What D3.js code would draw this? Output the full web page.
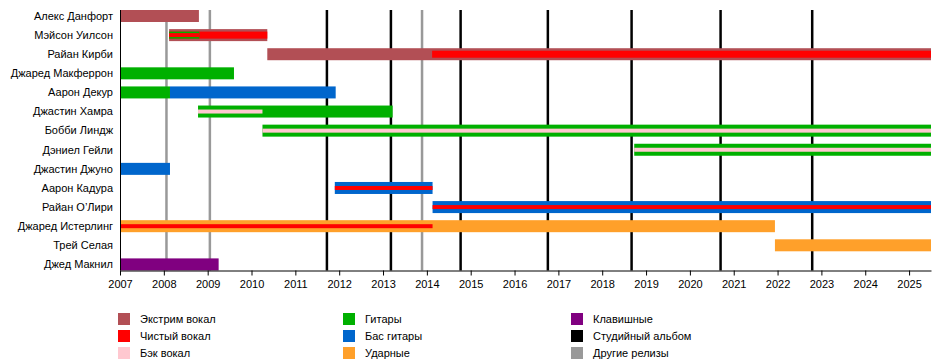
<!DOCTYPE html>
<html>
<head>
<meta charset="utf-8">
<script src="https://cdn.jsdelivr.net/npm/d3@7"></script>
<style>
  html, body { margin: 0; padding: 0; background: #fff; }
  svg { display: block; font-family: "Liberation Sans", Arial, sans-serif; }
</style>
</head>
<body>
<svg id="chart" width="950" height="360"></svg>
<script>
// ---- data ----
const members = ["Алекс Данфорт", "Мэйсон Уилсон", "Райан Кирби", "Джаред Макферрон", "Аарон Декур",
  "Джастин Хамра", "Бобби Линдж", "Дэниел Гейли", "Джастин Джуно", "Аарон Кадура",
  "Райан О’Лири", "Джаред Истерлинг", "Трей Селая", "Джед Макнил"];

const roles = ["extreme", "clean", "backing", "guitar", "bass", "drums", "keys", "studio", "other"];
const roleLabels = ["Экстрим вокал", "Чистый вокал", "Бэк вокал", "Гитары", "Бас гитары", "Ударные",
  "Клавишные", "Студийный альбом", "Другие релизы"];

const endDate = 2025.5;

// [member, role, start, end, layer]  layer 0 = main bar, 1 = inner, 2 = thin inner
const periods = [
  ["Алекс Данфорт", "extreme", 2007, 2008.80, 0],
  ["Мэйсон Уилсон", "extreme", 2008.12, 2010.36, 0],
  ["Мэйсон Уилсон", "clean", 2008.12, 2010.36, 1],
  ["Мэйсон Уилсон", "guitar", 2008.12, 2008.81, 1],
  ["Мэйсон Уилсон", "clean", 2008.12, 2008.81, 2],
  ["Райан Кирби", "extreme", 2010.36, endDate, 0],
  ["Райан Кирби", "clean", 2014.12, endDate, 1],
  ["Джаред Макферрон", "guitar", 2007, 2009.60, 0],
  ["Аарон Декур", "guitar", 2007, 2008.14, 0],
  ["Аарон Декур", "bass", 2008.14, 2011.92, 0],
  ["Джастин Хамра", "guitar", 2008.78, 2013.22, 0],
  ["Джастин Хамра", "backing", 2008.78, 2010.25, 2],
  ["Бобби Линдж", "guitar", 2010.25, endDate, 0],
  ["Бобби Линдж", "backing", 2010.25, endDate, 2],
  ["Дэниел Гейли", "guitar", 2018.73, endDate, 0],
  ["Дэниел Гейли", "backing", 2018.73, endDate, 2],
  ["Джастин Джуно", "bass", 2007, 2008.14, 0],
  ["Аарон Кадура", "bass", 2011.90, 2014.13, 0],
  ["Аарон Кадура", "clean", 2011.90, 2014.13, 2],
  ["Райан О’Лири", "bass", 2014.13, endDate, 0],
  ["Райан О’Лири", "clean", 2014.13, endDate, 2],
  ["Джаред Истерлинг", "drums", 2007, 2021.94, 0],
  ["Джаред Истерлинг", "clean", 2007, 2014.13, 2],
  ["Трей Селая", "drums", 2021.94, endDate, 0],
  ["Джед Макнил", "keys", 2007, 2009.25, 0]
];

const studioAlbums = [2011.72, 2013.18, 2014.77, 2016.76, 2018.67, 2020.70, 2022.79];
const otherReleases = [2008.06, 2009.05, 2013.89];

const tickYears = d3.range(2007, 2026);

// ---- styles ----
const colors = {
  extreme: "#B24F55", clean: "#FF0000", backing: "#FFC8D0",
  guitar: "#00B000", bass: "#0066CC", drums: "#FFA02A",
  keys: "#800080", studio: "#000000", other: "#999999"
};
const layerHeight = [12, 7, 4];

const svg = d3.select("#chart");
const x = d3.scaleLinear().domain([2007, endDate]).range([120, 931]);
const y = d3.scalePoint().domain(members).range([16, 264.4]);

const plotTop = 10, plotBottom = 270.5;

// event lines
const lines = svg.append("g");
lines.selectAll("line.other").data(otherReleases).join("line")
  .attr("x1", d => x(d)).attr("x2", d => x(d))
  .attr("y1", plotTop).attr("y2", plotBottom)
  .attr("stroke", colors.other).attr("stroke-width", 2.5);
lines.selectAll("line.studio").data(studioAlbums).join("line")
  .attr("x1", d => x(d)).attr("x2", d => x(d))
  .attr("y1", plotTop).attr("y2", plotBottom)
  .attr("stroke", colors.studio).attr("stroke-width", 2.5);

// bars
const sorted = periods.map((p, i) => ({p, i})).sort((a, b) => (a.p[4] - b.p[4]) || (a.i - b.i)).map(d => d.p);
svg.append("g").selectAll("rect").data(sorted).join("rect")
  .attr("x", d => x(d[2]))
  .attr("width", d => x(d[3]) - x(d[2]))
  .attr("y", d => y(d[0]) - layerHeight[d[4]] / 2)
  .attr("height", d => layerHeight[d[4]])
  .attr("fill", d => colors[d[1]]);

// x axis
const xAxis = d3.axisBottom(x).tickValues(tickYears).tickFormat(d3.format("d")).tickSize(5).tickSizeOuter(0);
const gx = svg.append("g").attr("transform", `translate(0,${plotBottom})`).call(xAxis);
gx.select(".domain").attr("stroke", "#000");
gx.selectAll(".tick line").attr("stroke", "#000");
gx.selectAll(".tick text").attr("font-size", 11).attr("fill", "#000").attr("dy", "0.9em")
  .attr("font-family", "'Liberation Sans', Arial, sans-serif");

// y axis line
svg.append("line").attr("x1", 120.5).attr("x2", 120.5).attr("y1", plotTop).attr("y2", plotBottom)
  .attr("stroke", "#000").attr("stroke-width", 1);

// member labels
svg.append("g").selectAll("text").data(members).join("text")
  .attr("x", 113).attr("y", d => y(d)).attr("dy", "0.35em")
  .attr("text-anchor", "end").attr("font-size", 11).attr("fill", "#000")
  .text(d => d);

// legend
const legend = svg.append("g");
const colX = [118, 343, 571];
const rowY = [319, 336, 353];
roles.forEach((r, i) => {
  const c = Math.floor(i / 3), rr = i % 3;
  legend.append("rect").attr("x", colX[c]).attr("y", rowY[rr] - 6).attr("width", 12).attr("height", 12)
    .attr("fill", colors[r]);
  legend.append("text").attr("x", colX[c] + 22).attr("y", rowY[rr]).attr("dy", "0.35em")
    .attr("font-size", 11).attr("fill", "#000").text(roleLabels[i]);
});
</script>
</body>
</html>
